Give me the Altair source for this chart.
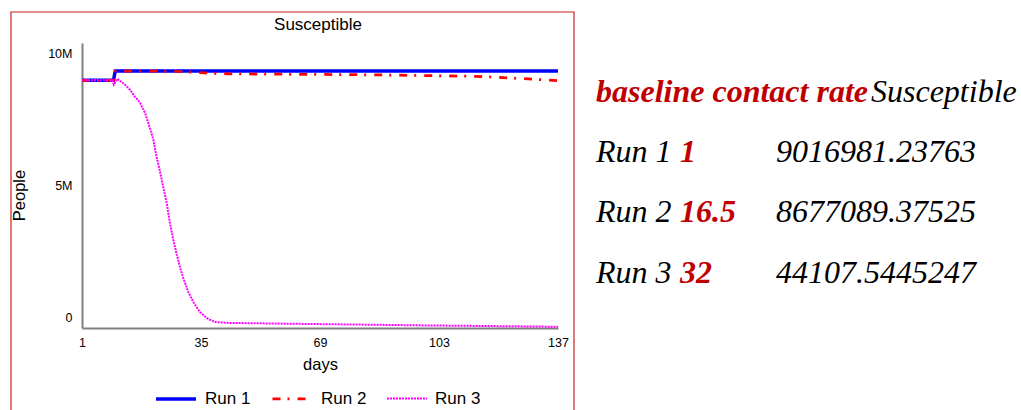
import altair as alt
import pandas as pd

# Series styling / legend
runs = ["Run 1", "Run 2", "Run 3"]
run_colors = ["#0000ff", "#ff0000", "#ff00ff"]
run_dashes = [[1, 0], [8, 7, 2, 8], [2, 1]]
run_widths = [3.5, 2, 1.5]

# Sensitivity table: contact rate per run and final susceptible population
contact_rates = [1, 16.5, 32]
final_susceptible = [9016981.23763, 8677089.37525, 44107.5445247]

# Axis ticks
x_ticks = [1, 35, 69, 103, 137]
y_ticks = [0, 5000000, 10000000]

chart_title = ["Susceptible"]

# Susceptible population over time (people) for each run
run1_days = [1, 10, 10.5, 137]
run1_people = [8690000, 8690000, 9016981.23763, 9016981.23763]

run2_days = [1, 10, 10.5, 20, 29, 33, 36, 43, 52, 63, 78, 85, 98, 109, 118,
             124, 131, 137]
run2_people = [8690000, 8690000, 9016981, 9015000, 9000000, 8970000, 8950000,
               8920000, 8910000, 8900000, 8890000, 8880000, 8860000, 8840000,
               8810000, 8770000, 8720000, 8677089.37525]

run3_days = [1, 9.6, 10.1, 11.1, 12.1, 13.3, 14.7, 16.1, 17.6, 19.0, 20.4,
             21.4, 22.3, 23.3, 24.2, 25.2, 26.1, 27.1, 28.1, 29.0, 29.9, 31.4,
             32.8, 34.7, 36.6, 39.0, 42.7, 60, 80, 100, 120, 137]
run3_people = [8690000, 8690000, 8535000, 8746000, 8650000, 8535000, 8360000,
               8120000, 7900000, 7550000, 7020000, 6600000, 6010000, 5480000,
               4950000, 4390000, 3690000, 3090000, 2560000, 2140000, 1760000,
               1260000, 910000, 560000, 350000, 210000, 180000, 150000, 120000,
               90000, 65000, 44107.5445247]

series = pd.concat([
    pd.DataFrame({"run": name, "day": d, "people": p})
    for name, d, p in zip(runs,
                          [run1_days, run2_days, run3_days],
                          [run1_people, run2_people, run3_people])
], ignore_index=True)

PLOT_W, PLOT_H = 476, 285
LEFT, TOP = 82, 43
TOTAL_W, TOTAL_H = 1021, 410

sans = "Liberation Sans"
serif = "Liberation Serif"
dark_red = "#c00000"

lines = alt.Chart(series).mark_line(clip=True).encode(
    x=alt.X("day:Q",
            scale=alt.Scale(domain=[1, 137], nice=False, zero=False),
            axis=alt.Axis(values=x_ticks, title="days", ticks=False, grid=False,
                          domainColor="#808080", domainWidth=2,
                          labelFont=sans, labelFontSize=12.5, labelColor="black",
                          labelPadding=8, labelFlush=False,
                          titleFont=sans, titleFontSize=16.5, titleFontWeight="normal",
                          titleColor="black", titlePadding=8)),
    y=alt.Y("people:Q",
            scale=alt.Scale(domain=[0, 10000000], nice=False),
            axis=alt.Axis(values=y_ticks, title="People", ticks=False,
                          labelExpr="datum.value == 0 ? '0' : format(datum.value, '~s')",
                          grid=False, domainColor="#808080", domainWidth=2,
                          labelFont=sans, labelFontSize=12.5, labelColor="black",
                          labelPadding=10, labelFlush=True, labelFlushOffset=-4,
                          titleFont=sans, titleFontSize=16.5, titleFontWeight="normal",
                          titleColor="black", titlePadding=20, titleY=152)),
    color=alt.Color("run:N", scale=alt.Scale(domain=runs, range=run_colors),
                    legend=alt.Legend(orient="none", legendX=72, legendY=334,
                                      direction="horizontal", title=None,
                                      symbolType="stroke", symbolSize=1600,
                                      labelFont=sans, labelFontSize=17,
                                      labelColor="black", labelOffset=7,
                                      columnPadding=16, padding=0, labelLimit=0)),
    strokeDash=alt.StrokeDash("run:N", scale=alt.Scale(domain=runs, range=run_dashes)),
    strokeWidth=alt.StrokeWidth("run:N", scale=alt.Scale(domain=runs, range=run_widths)),
    order=alt.Order("day:Q"),
)

# Frame around the chart panel
frame = alt.Chart(pd.DataFrame({"k": [0]})).mark_rect(
    fill=None, stroke="#cc2020", strokeWidth=1.2, clip=False
).encode(
    x=alt.value(11 - LEFT), x2=alt.value(574 - LEFT),
    y=alt.value(12 - TOP), y2=alt.value(TOTAL_H + 20 - TOP),
)

# Panel title, centred over the plot
title_text = alt.Chart(pd.DataFrame({"t": chart_title})).mark_text(
    align="center", baseline="alphabetic", font=sans, fontSize=17,
    color="black", clip=False,
).encode(
    x=alt.value(PLOT_W / 2 - 2), y=alt.value(-13.5), text="t:N",
)

# Table on the right
table_rows = ["header"] + runs
row_scale = alt.Scale(type="point", domain=table_rows, range=[58.7, 239.7], padding=0)

header_df = pd.DataFrame({"row": ["header"], "param": ["baseline contact rate"],
                          "var": ["Susceptible"]})
table_df = pd.DataFrame({
    "row": runs,
    "rate": [str(r) for r in contact_rates],
    "value": [str(v) for v in final_susceptible],
})


def table_text(df, field, x, color, weight):
    return alt.Chart(df).mark_text(
        align="left", baseline="alphabetic", font=serif, fontSize=32,
        fontStyle="italic", fontWeight=weight, color=color, clip=False,
    ).encode(
        x=alt.value(x),
        y=alt.Y("row:N", scale=row_scale, axis=None),
        text=alt.Text(f"{field}:N"),
    )


t_head1 = table_text(header_df, "param", 596 - LEFT, dark_red, "bold")
t_head2 = table_text(header_df, "var", 871 - LEFT, "black", "normal")
t_runs = table_text(table_df, "row", 596 - LEFT, "black", "normal")
t_rate = table_text(table_df, "rate", 680 - LEFT, dark_red, "bold")
t_val = table_text(table_df, "value", 776 - LEFT, "black", "normal")

table = alt.layer(t_head1, t_head2, t_runs, t_rate, t_val)

chart = alt.layer(frame, title_text, lines, table).resolve_scale(
    y="independent"
).properties(
    width=PLOT_W,
    height=PLOT_H,
    background="white",
    autosize=alt.AutoSizeParams(type="none"),
    padding={"left": LEFT, "top": TOP,
             "right": TOTAL_W - LEFT - PLOT_W, "bottom": TOTAL_H - TOP - PLOT_H},
).configure_view(stroke=None, strokeWidth=0)

chart.save("out.html", embed_options={"renderer": "svg", "actions": False})
